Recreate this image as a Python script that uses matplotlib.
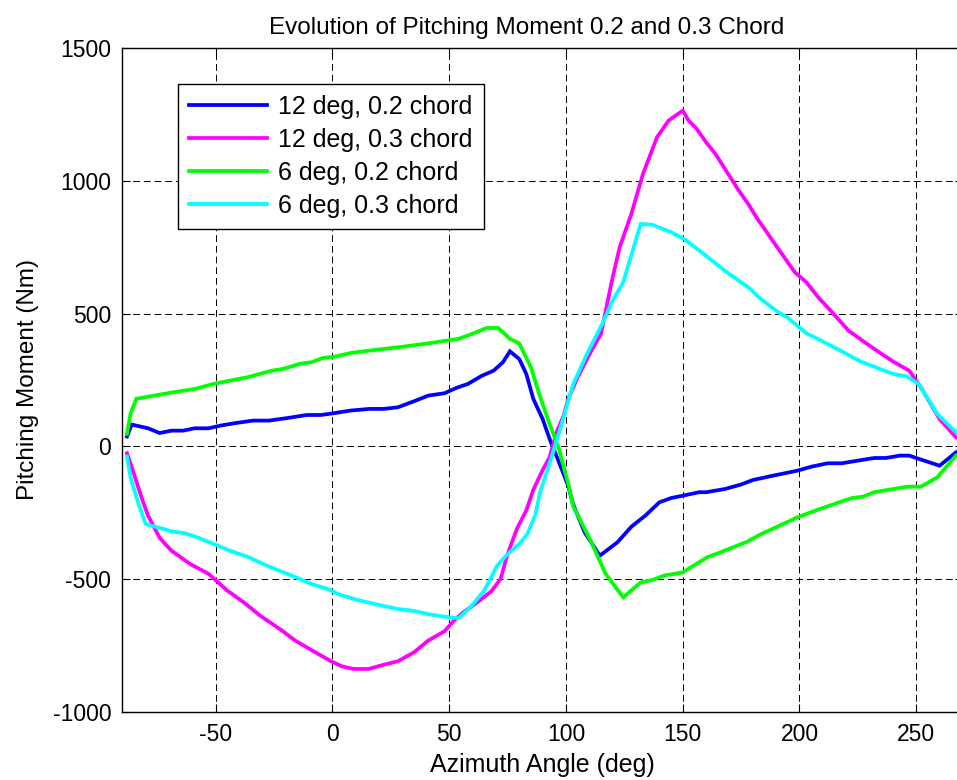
import matplotlib
matplotlib.use("Agg")
import matplotlib.pyplot as plt

plt.rcParams['font.family'] = ['Liberation Sans', 'DejaVu Sans']
plt.rcParams['axes.unicode_minus'] = False

# Azimuth angle (deg) and pitching moment (Nm) for each case
az_12_02 = [-88, -86, -79, -74, -69, -64, -59, -53, -48, -42, -34, -27, -19, -11, -5, 0,
            8, 16, 22, 28, 35, 41, 48, 53, 58, 64, 69, 73, 76, 80, 83, 86, 90, 93, 97,
            101, 103, 108, 114.5, 122, 128, 134, 140, 145, 150, 157, 160, 168, 175, 180,
            189, 199, 205, 212, 218, 225, 232, 237, 243, 247, 250, 260, 267]
pm_12_02 = [37, 82, 68, 50, 59, 59, 68, 68, 78, 87, 97, 97, 107, 118, 118, 124,
            135, 141, 141, 147, 170, 191, 200, 220, 235, 266, 285, 317, 358, 329, 273, 179, 103, 28, -60,
            -150, -217, -324, -412, -362, -303, -261, -211, -195, -186, -173, -173, -161, -144, -127,
            -110, -92, -77, -64, -64, -54, -44, -44, -35, -35, -44, -73, -23]

az_12_03 = [-88, -85, -82, -79, -74, -69, -61, -53, -45, -38, -31, -22, -16, -8, -1, 4, 9,
            15.5, 22, 28, 35, 41, 48, 52, 56, 62, 68, 72, 75, 79, 83, 86, 90, 93, 96, 99,
            101, 105, 110.5, 115, 120, 123, 128, 133, 139, 144, 150, 152.5, 156, 160, 164,
            169, 174, 178, 182, 186, 192, 198, 203, 208, 214, 221, 227, 233, 240, 247, 252,
            260, 267]
pm_12_03 = [-26, -104, -186, -261, -345, -393, -443, -481, -544, -588, -638, -692, -732, -773, -808, -829, -839,
            -839, -823, -810, -776, -732, -697, -657, -626, -588, -547, -500, -406, -311, -242, -164, -90, -41, 53, 116,
            179, 260, 354, 424, 637, 750, 876, 1027, 1165, 1228, 1265, 1228, 1196, 1146, 1102,
            1033, 964, 914, 857, 807, 731, 656, 618, 562, 505, 436, 398, 361, 320, 285, 222,
            103, 34]

az_6_02 = [-88, -86.5, -84, -76.5, -68, -59, -51, -42, -36.5, -26, -21, -14, -9, -4, 1, 8, 16,
           28, 41, 54, 60.5, 66, 71, 76, 80, 85, 88.5, 93, 97, 101, 103, 110.5, 117, 124.5,
           132, 137, 142, 150, 160.5, 166, 178, 183, 190, 199, 207.5, 217, 222.5, 227, 232,
           240, 246, 252, 259, 267]
pm_6_02 = [47, 122, 179, 191, 204, 216, 235, 251, 260, 285, 292, 311, 317, 333, 338, 352, 361,
           373, 388, 405, 426, 446, 446, 405, 388, 298, 198, 84, -10, -142, -224, -355, -481, -569,
           -513, -504, -487, -475, -418, -400, -358, -333, -305, -268, -240, -211, -195, -190, -173,
           -161, -152, -152, -117, -35]

az_6_03 = [-88, -86.5, -83.5, -80, -75, -69, -63, -58, -51.5, -44, -36.5, -28, -21, -15, -9, -2,
           3, 12, 21, 28, 34, 42, 48, 54, 59, 65, 70.5, 75, 80, 83.5, 87, 89, 92, 97, 103, 109,
           115.5, 120, 124.5, 132, 137, 145, 150.5, 157.5, 163, 168, 175, 179, 182.5, 190, 195,
           203, 212, 217.5, 226, 232, 240, 246, 251, 259, 267]
pm_6_03 = [-39, -117, -205, -293, -305, -320, -328, -343, -366, -393, -416, -450, -475, -496, -519, -538,
           -559, -582, -600, -613, -619, -634, -642, -648, -607, -544, -450, -406, -368, -330, -255, -170, -92, 50, 232, 348,
           461, 549, 618, 838, 835, 807, 782, 735, 697, 662, 618, 593, 562, 511, 484,
           426, 386, 361, 320, 300, 273, 263, 235, 122, 53]

labels = ['12 deg, 0.2 chord', '12 deg, 0.3 chord', '6 deg, 0.2 chord', '6 deg, 0.3 chord']
colors = ['#0000ff', '#ff00ff', '#00ff00', '#00ffff']

fig = plt.figure(figsize=(9.57, 7.80), dpi=100)
ax = fig.add_axes([0.1278, 0.0876, 0.8784, 0.8505])

series = [(az_12_02, pm_12_02), (az_12_03, pm_12_03), (az_6_02, pm_6_02), (az_6_03, pm_6_03)]
for (xs, ys), lab, col in zip(series, labels, colors):
    ax.plot(xs, ys, color=col, lw=2.7, label=lab, solid_joinstyle='miter')

ax.set_xlim(-90, 270)
ax.set_ylim(-1000, 1500)
ax.set_xticks([-50, 0, 50, 100, 150, 200, 250])
ax.set_yticks([-1000, -500, 0, 500, 1000, 1500])
ax.grid(True, color='black', linestyle=(0, (7, 4)), linewidth=0.7)
ax.tick_params(direction='in', length=6, width=0.8, labelsize=16.5, top=True, right=True, pad=8)
for s in ax.spines.values():
    s.set_linewidth(1.0)

ax.set_title('Evolution of Pitching Moment 0.2 and 0.3 Chord', fontsize=17.5, pad=10, x=0.4815)
ax.set_xlabel('Azimuth Angle (deg)', fontsize=18, labelpad=5)
ax.set_ylabel('Pitching Moment (Nm)', fontsize=17.5, labelpad=10)

leg = ax.legend(loc='upper left', bbox_to_anchor=(0.0663, 0.9462), borderaxespad=0,
                fontsize=18, handlelength=3.1, labelspacing=0.36, fancybox=False,
                framealpha=1, edgecolor='black', borderpad=0.45, handletextpad=0.45)
leg.get_frame().set_linewidth(1.0)

fig.savefig('out.png', dpi=100)
